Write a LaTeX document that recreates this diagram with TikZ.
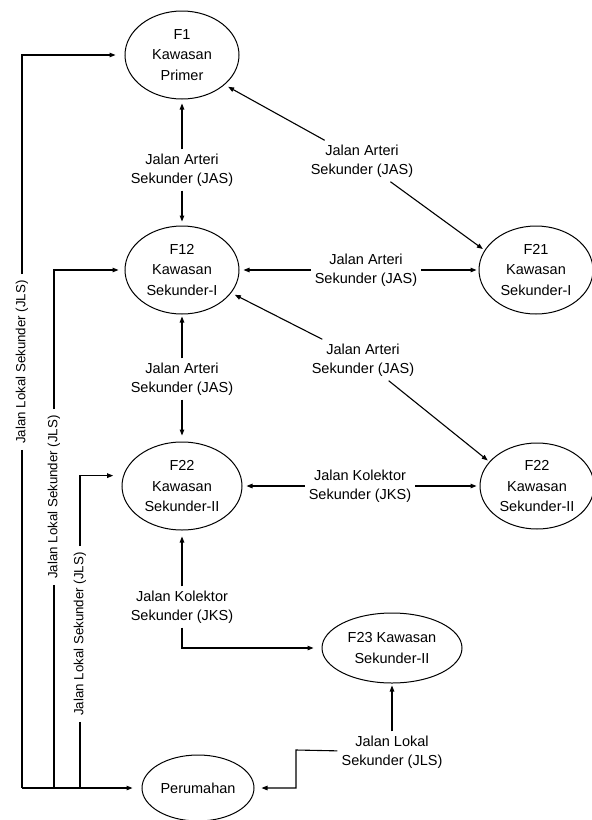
\documentclass[tikz,border=0pt]{standalone}
\usepackage{fontspec}
\setmainfont{Liberation Sans}
\usetikzlibrary{shapes.geometric,arrows.meta}
\begin{document}
\begin{tikzpicture}[x=1pt,y=-1pt,
  ell/.style={ellipse,draw,line width=1pt,inner sep=0pt,align=center,font=\fontsize{14.5}{20.5}\selectfont},
  lab/.style={align=center,inner xsep=4pt,inner ysep=4pt,font=\fontsize{14.5}{19.5}\selectfont},
  vlab/.style={rotate=90,inner xsep=6pt,inner ysep=2pt,font=\fontsize{13.3}{16}\selectfont},
  con/.style={line width=1.1pt},
  arr/.style={con,-{Triangle[length=6pt,width=4.5pt]},shorten >=4pt}]
\useasboundingbox (0,0) rectangle (592,820);
% ellipses
\node[ell,minimum width=114pt,minimum height=88pt] (F1) at (182,55) {F1\\Kawasan\\Primer};
\node[ell,minimum width=114pt,minimum height=88pt] (F12) at (182,270) {F12\\Kawasan\\Sekunder-I};
\node[ell,minimum width=114pt,minimum height=88pt] (F21) at (536,270) {F21\\Kawasan\\Sekunder-I};
\node[ell,minimum width=120pt,minimum height=88pt] (F22) at (182,486) {F22\\Kawasan\\Sekunder-II};
\node[ell,minimum width=114pt,minimum height=86pt] (F22r) at (537,486) {F22\\Kawasan\\Sekunder-II};
\node[ell,minimum width=140pt,minimum height=70pt] (F23) at (392,648) {F23 Kawasan\\Sekunder-II};
\node[ell,minimum width=112pt,minimum height=66pt] (Per) at (198,788) {Perumahan};
% labels
\node[lab] (j1) at (182,170) {Jalan Arteri\\Sekunder (JAS)};
\node[lab] (j2) at (362,161) {Jalan Arteri\\Sekunder (JAS)};
\node[lab] (j3) at (366,270) {Jalan Arteri\\Sekunder (JAS)};
\node[lab] (j4) at (363,360) {Jalan Arteri\\Sekunder (JAS)};
\node[lab] (j5) at (182,379) {Jalan Arteri\\Sekunder (JAS)};
\node[lab] (j6) at (360,486) {Jalan Kolektor\\Sekunder (JKS)};
\node[lab] (j7) at (182,607) {Jalan Kolektor\\Sekunder (JKS)};
\node[lab] (j8) at (392,752) {Jalan Lokal\\Sekunder (JLS)};
\node[vlab] (L1) at (22,362) {Jalan Lokal Sekunder (JLS)};
\node[vlab] (L2) at (54,497) {Jalan Lokal Sekunder (JLS)};
\node[vlab] (L3) at (80,634) {Jalan Lokal Sekunder (JLS)};
% corners
\coordinate (cO) at (22,788);
\coordinate (cM) at (54,788);
\coordinate (cI) at (80,788);
\coordinate (c1) at (296,750);
% connectors
\draw[arr] (j1) -- (F1);
\draw[arr] (j1) -- (F12);
\draw[arr] (j2) -- (F1.-35);
\draw[arr,shorten >=2pt] (j2) -- (F21.159);
\draw[arr] (j3) -- (F12);
\draw[arr,shorten >=2pt] (j3) -- (F21);
\draw[arr] (j4) -- (F12.-25);
\draw[arr,shorten >=2pt] (j4) -- (F22r.153);
\draw[arr,shorten >=2pt] (j5) -- (F12);
\draw[arr,shorten >=6pt] (j5) -- (F22);
\draw[arr] (j6) -- (F22);
\draw[arr,shorten >=3pt] (j6) -- (F22r);
\draw[arr,shorten >=6pt] (j7) -- (F22);
\draw[arr,shorten >=8pt] (j7) |- (F23);
\draw[arr,shorten >=2pt] (j8) -- (F23);
\draw[arr,shorten >=7pt] (j8) -- (c1) |- (Per);
\draw[arr,shorten >=9pt] (L1) |- (F1);
\draw[arr,shorten >=6pt] (L2) |- (F12);
\draw[arr,shorten >=10pt] (L3) |- (F22.170);
\draw[con] (L1) -- (cO);
\draw[con] (L2) -- (cM);
\draw[con] (L3) -- (cI);
\draw[arr,shorten >=9pt] (cO) -- (Per);
\end{tikzpicture}
\end{document}
